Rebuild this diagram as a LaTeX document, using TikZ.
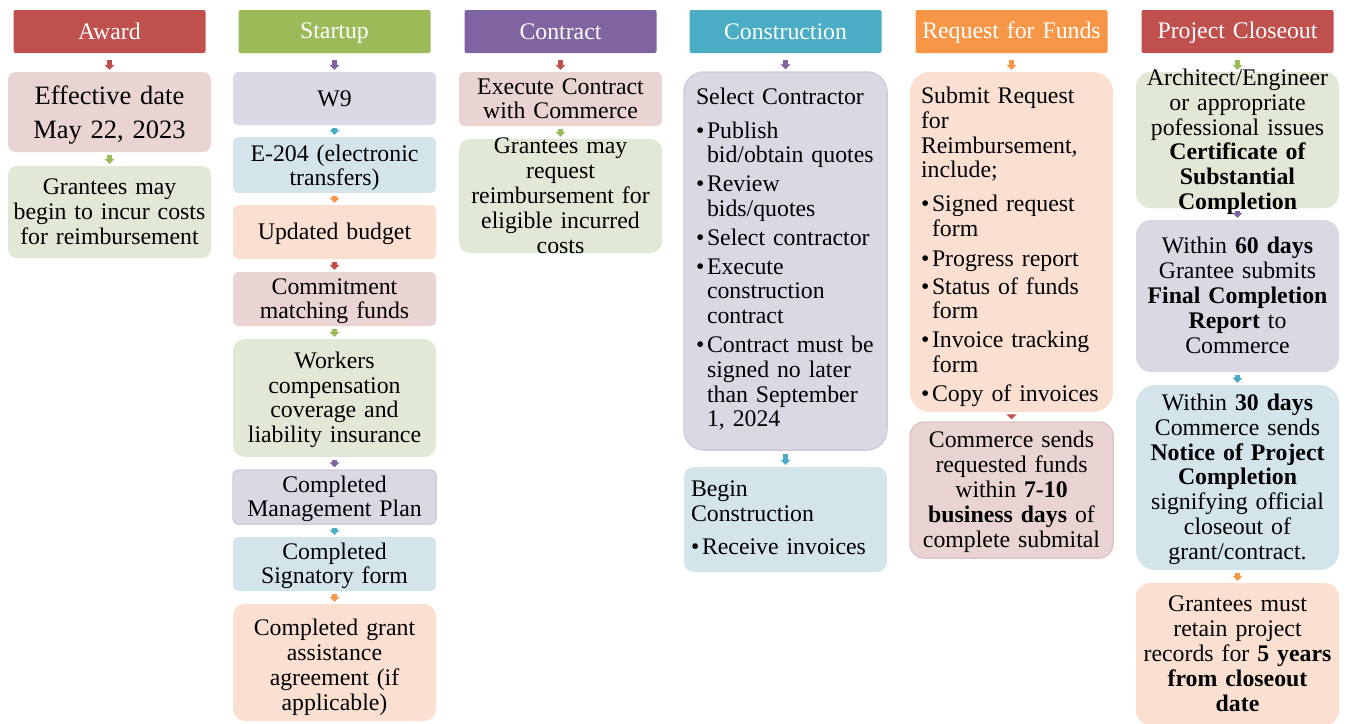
\documentclass[tikz,border=0pt]{standalone}
\usepackage{fontspec}
\setmainfont{Liberation Serif}
\usetikzlibrary{arrows.meta}

\definecolor{accred}{HTML}{C0504D}
\definecolor{accgreen}{HTML}{9BBB59}
\definecolor{accpurple}{HTML}{8064A2}
\definecolor{accaqua}{HTML}{4BACC6}
\definecolor{accorange}{HTML}{F79646}
\definecolor{tintred}{HTML}{E9D3D3}
\definecolor{tintgreen}{HTML}{E1E8D5}
\definecolor{tintpurple}{HTML}{DCD8E3}
\definecolor{tintaqua}{HTML}{D3E4EA}
\definecolor{tintorange}{HTML}{FBE0D2}
\definecolor{edgered}{HTML}{DEC6C6}
\definecolor{edgepurple}{HTML}{D1CBDC}

\newcommand{\boxfont}{\fontsize{23.8}{24.8}\selectfont}
\newcommand{\datefont}{\fontsize{26.5}{34}\selectfont}
\newcommand{\bulitem}{\makebox[11pt][l]{\textbullet}}
\newcommand{\bulind}{\hspace*{11pt}}
% invisible struts that fix the first line height and the last line depth
\newcommand{\topstrut}[1]{\rule{0pt}{#1}}
\newcommand{\botstrut}[1]{\rule[-#1]{0pt}{#1}}

\begin{document}
\begin{tikzpicture}[x=1pt, y=-1pt,
    head/.style={rectangle, rounded corners=2pt, minimum width=192pt, minimum height=43pt, inner sep=0pt,
      text width=192pt, align=center, text=white, font=\boxfont,
      execute at begin node=\topstrut{20pt}, execute at end node=\botstrut{5pt}},
    box/.style={rectangle, minimum width=203pt, inner xsep=4pt, inner ysep=2pt,
      text width=195pt, align=center, font=\boxfont,
      execute at begin node=\topstrut{20pt}, execute at end node=\botstrut{5pt}},
    txt/.style={text width=203pt, inner sep=0pt, align=center, font=\boxfont,
      execute at begin node=\topstrut{20pt}, execute at end node=\botstrut{5pt}},
    link/.style={line width=5pt, -{Triangle[width=10pt,length=5pt]}, shorten <=3pt, shorten >=2pt}]
  \useasboundingbox (0,0) rectangle (1346,723);

  % Award
  \node[head, fill=accred] (aw0) at (109.5,31.5) {Award};
  \node[box, fill=tintred, minimum height=80pt, rounded corners=8pt, font=\datefont,
    execute at begin node=\topstrut{24pt}] (aw1) at (109.5,112) {Effective date\\May 22, 2023};
  \node[box, fill=tintgreen, minimum height=92pt, rounded corners=9pt] (aw2) at (109.5,212) {Grantees may\\begin to incur costs\\for reimbursement};

  % Startup
  \node[head, fill=accgreen] (st0) at (334.5,31.5) {Startup};
  \node[box, fill=tintpurple, minimum height=53pt, rounded corners=5pt] (st1) at (334.5,98.5) {W9};
  \node[box, fill=tintaqua, minimum height=54pt, rounded corners=5pt,
    execute at begin node=\topstrut{22pt}] (st2) at (334.5,165) {E-204 (electronic\\transfers)};
  \node[box, fill=tintorange, minimum height=54pt, rounded corners=5pt] (st3) at (334.5,232) {Updated budget};
  \node[box, fill=tintred, minimum height=54pt, rounded corners=5pt] (st4) at (334.5,299) {Commitment\\matching funds};
  \node[box, fill=tintgreen, minimum height=118pt, rounded corners=12pt] (st5) at (334.5,398) {Workers\\compensation\\coverage and\\liability insurance};
  \node[box, fill=tintpurple, draw=edgepurple, line width=1.5pt, minimum height=54pt, rounded corners=5pt] (st6) at (334.5,497) {Completed\\Management Plan};
  \node[box, fill=tintaqua, minimum height=54pt, rounded corners=5pt] (st7) at (334.5,564) {Completed\\Signatory form};
  \node[box, fill=tintorange, minimum height=117pt, rounded corners=12pt,
    execute at begin node=\topstrut{26pt}] (st8) at (334.5,662.5) {Completed grant\\assistance\\agreement (if\\applicable)};

  % Contract
  \node[head, fill=accpurple] (ct0) at (560.5,31.5) {Contract};
  \node[box, fill=tintred, minimum height=54pt, rounded corners=5pt] (ct1) at (560.5,99) {Execute Contract\\with Commerce};
  \node[box, fill=tintgreen, minimum height=114pt, rounded corners=11pt,
    label={[txt]center:{Grantees may\\request\\reimbursement for\\eligible incurred\\costs}}] (ct2) at (560.5,196) {};

  % Construction
  \node[head, fill=accaqua] (cn0) at (785.5,31.5) {Construction};
  \node[box, fill=tintpurple, draw=edgepurple, line width=1.5pt, minimum height=378pt, rounded corners=20pt,
    align=left, text width=179pt, inner xsep=12pt, execute at end node=\botstrut{11pt}] (cn1) at (785.5,261) {Select Contractor\\[9pt]
    \bulitem Publish\\ \bulind bid/obtain quotes\\[4pt]
    \bulitem Review\\ \bulind bids/quotes\\[4pt]
    \bulitem Select contractor\\[4pt]
    \bulitem Execute\\ \bulind construction\\ \bulind contract\\[4pt]
    \bulitem Contract must be\\ \bulind signed no later\\ \bulind than September\\ \bulind 1, 2024};
  \node[box, fill=tintaqua, minimum height=105pt, rounded corners=10pt,
    align=left, text width=189pt, inner xsep=7pt, execute at end node=\botstrut{8pt}] (cn2) at (785.5,519.5) {Begin\\Construction\\[9pt]
    \bulitem Receive invoices};

  % Request for Funds
  \node[head, fill=accorange] (rf0) at (1011.5,31.5) {Request for Funds};
  \node[box, fill=tintorange, minimum height=340pt, rounded corners=20pt,
    align=left, text width=181pt, inner xsep=11pt, execute at begin node=\topstrut{26pt}] (rf1) at (1011.5,242) {Submit Request\\for\\Reimbursement,\\include;\\[9pt]
    \bulitem Signed request\\ \bulind form\\[5pt]
    \bulitem Progress report\\[3pt]
    \bulitem Status of funds\\ \bulind form\\[4pt]
    \bulitem Invoice tracking\\ \bulind form\\[4pt]
    \bulitem Copy of invoices};
  \node[box, fill=tintred, draw=edgered, line width=1.5pt, minimum height=136pt, rounded corners=14pt] (rf2) at (1011.5,490) {Commerce sends\\requested funds\\within \textbf{7-10}\\\textbf{business days} of\\complete submital};

  % Project Closeout
  \node[head, fill=accred] (cl0) at (1237.5,31.5) {Project Closeout};
  \node[box, fill=tintgreen, minimum height=136pt, rounded corners=14pt,
    label={[txt]center:{Architect/Engineer\\or appropriate\\pofessional issues\\\textbf{Certificate of}\\\textbf{Substantial}\\\textbf{Completion}}}] (cl1) at (1237.5,140) {};
  \node[box, fill=tintpurple, minimum height=152pt, rounded corners=15pt] (cl2) at (1237.5,296) {Within \textbf{60 days}\\Grantee submits\\\textbf{Final Completion}\\\textbf{Report} to\\Commerce};
  \node[box, fill=tintaqua, minimum height=185pt, rounded corners=19pt] (cl3) at (1237.5,477.5) {Within \textbf{30 days}\\Commerce sends\\\textbf{Notice of Project}\\\textbf{Completion}\\signifying official\\closeout of\\grant/contract.};
  \node[box, fill=tintorange, minimum height=142pt, rounded corners=14pt] (cl4) at (1237.5,654) {Grantees must\\retain project\\records for \textbf{5 years}\\\textbf{from closeout}\\\textbf{date}};

  % little arrows
  \draw[link, accred, shorten <=7pt] (aw0) -- (aw1);
  \draw[link, accgreen] (aw1) -- (aw2);

  \draw[link, accpurple, shorten <=7pt] (st0) -- (st1);
  \draw[link, accaqua] (st1) -- (st2);
  \draw[link, accorange] (st2) -- (st3);
  \draw[link, accred] (st3) -- (st4);
  \draw[link, accgreen] (st4) -- (st5);
  \draw[link, accpurple] (st5) -- (st6);
  \draw[link, accaqua] (st6) -- (st7);
  \draw[link, accorange] (st7) -- (st8);

  \draw[link, accred, shorten <=7pt] (ct0) -- (ct1);
  \draw[link, accgreen] (ct1) -- (ct2);

  \draw[link, accpurple, shorten <=7pt] (cn0) -- (cn1);
  \draw[link, accaqua] (cn1) -- (cn2);

  \draw[link, accorange, shorten <=7pt] (rf0) -- (rf1);
  \draw[link, accred] (rf1) -- (rf2);

  \draw[link, accgreen, shorten <=7pt] (cl0) -- (cl1);
  \draw[link, accpurple] (cl1) -- (cl2);
  \draw[link, accaqua] (cl2) -- (cl3);
  \draw[link, accorange] (cl3) -- (cl4);
\end{tikzpicture}
\end{document}
